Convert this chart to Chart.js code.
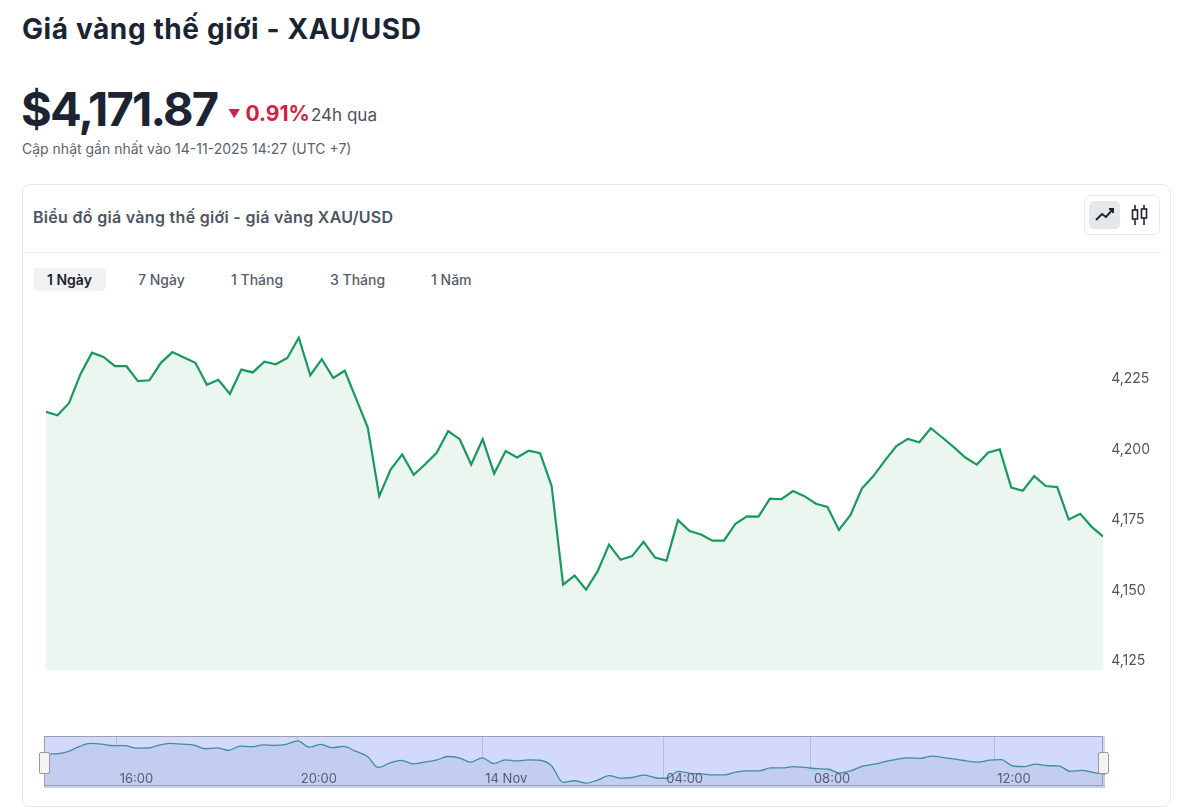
<!DOCTYPE html>
<html><head><meta charset="utf-8">
<script src="https://cdn.jsdelivr.net/npm/chart.js@4/dist/chart.umd.min.js"></script>
<style>
body{margin:0;background:#fff;font-family:Inter,"Noto Sans",sans-serif;color:#1c2433;width:1184px;height:812px;position:relative;overflow:hidden}
.abs{position:absolute;white-space:nowrap}
#card{position:absolute;left:22px;top:184px;width:1149px;height:623px;border:1px solid #e6e8ec;border-radius:8px;box-sizing:border-box}
.tab{position:absolute;top:268px;height:23px;line-height:23px;font-size:14px;color:#555d6b;font-weight:500;padding:0 14px}
</style></head><body>
<div class="abs" style="left:22px;top:12px;font-size:28px;font-weight:700;letter-spacing:0.6px">Giá vàng thế giới - XAU/USD</div>
<div class="abs" style="left:21px;top:80px;font-size:47px;font-weight:700;letter-spacing:-1.8px">$4,171.87</div>
<div class="abs" style="left:228px;top:101px;font-size:21px;font-weight:700;color:#d21f46"><span style="font-size:12px;vertical-align:3px">▼</span> 0.91%</div>
<div class="abs" style="left:311px;top:105px;font-size:17px;color:#4b5260">24h qua</div>
<div class="abs" style="left:22px;top:140px;font-size:14px;color:#5b6270">Cập nhật gần nhất vào 14-11-2025 14:27 (UTC +7)</div>
<div id="card"></div>
<div class="abs" style="left:33px;top:207px;font-size:16px;font-weight:600;color:#4b5563;letter-spacing:0.3px">Biểu đồ giá vàng thế giới - giá vàng XAU/USD</div>
<div class="abs" style="left:1084px;top:195px;width:76px;height:40px;border:1px solid #e6e8ec;border-radius:6px;box-sizing:border-box"></div>
<div class="abs" style="left:1089px;top:201px;width:31px;height:28px;background:#e5e7eb;border-radius:5px"></div>
<svg class="abs" style="left:1094px;top:205px" width="22" height="20"><polyline points="2,15 8,9 12,12 19,4" fill="none" stroke="#1c2433" stroke-width="2"/><polyline points="15,4 19,4 19,8" fill="none" stroke="#1c2433" stroke-width="2"/></svg>
<svg class="abs" style="left:1130px;top:204px" width="20" height="22"><line x1="5" y1="1" x2="5" y2="21" stroke="#1c2433" stroke-width="1.6"/><rect x="2.5" y="6" width="5" height="9" fill="#fff" stroke="#1c2433" stroke-width="1.6"/><line x1="14" y1="1" x2="14" y2="21" stroke="#1c2433" stroke-width="1.6"/><rect x="11.5" y="5" width="5" height="9" fill="#fff" stroke="#1c2433" stroke-width="1.6"/></svg>
<div class="abs" style="left:23px;top:252px;width:1138px;height:1px;background:#eceef1"></div>
<div class="tab" style="left:33px;background:#f1f2f4;border-radius:5px;color:#1c2433;font-weight:600">1 Ngày</div>
<div class="tab" style="left:124px">7 Ngày</div>
<div class="tab" style="left:217px">1 Tháng</div>
<div class="tab" style="left:316px">3 Tháng</div>
<div class="tab" style="left:417px">1 Năm</div>
<div class="abs" style="left:40px;top:300px;width:1123px;height:385px"><canvas id="main"></canvas></div>
<div class="abs" style="left:44px;top:736px;width:1061px;height:52px"><canvas id="nav"></canvas></div>
<div class="abs" style="left:44px;top:736px;width:1059px;height:50px;border:1px solid #9aa0b0;box-sizing:border-box;pointer-events:none"></div>
<div class="abs" style="left:39px;top:752px;width:9px;height:20px;background:#f3f3f3;border:1px solid #999;border-radius:2px"></div>
<div class="abs" style="left:1098px;top:752px;width:9px;height:20px;background:#f3f3f3;border:1px solid #999;border-radius:2px"></div>
<script>
const prices=[4213.4,4212.2,4216.5,4226.8,4234.4,4232.9,4229.6,4229.6,4224.3,4224.6,4230.8,4234.6,4232.7,4230.8,4223.0,4224.8,4219.8,4228.4,4227.4,4231.2,4230.3,4232.5,4239.7,4226.4,4232.1,4225.4,4228.0,4217.9,4207.8,4183.5,4193.0,4198.3,4191.1,4194.8,4198.9,4206.6,4203.7,4194.7,4203.7,4191.5,4199.5,4197.2,4199.6,4198.7,4187.1,4152.1,4155.3,4150.3,4156.8,4166.3,4160.9,4162.2,4167.3,4161.7,4160.6,4175.0,4171.1,4169.9,4167.7,4167.7,4173.7,4176.3,4176.2,4182.6,4182.4,4185.3,4183.5,4180.8,4179.7,4171.5,4176.7,4186.2,4190.6,4196.1,4201.3,4203.8,4202.6,4207.6,4204.3,4200.9,4197.2,4194.7,4199.0,4200.1,4186.5,4185.4,4190.6,4187.1,4186.7,4175.2,4177.2,4172.6,4169.1];
const yTicks=[4125,4150,4175,4200,4225];
const navLabels=["16:00","20:00","14 Nov","04:00","08:00","12:00"];
const navLabelIdx=[6.3,22,38,53.7,66.5,82.4];
const pts=prices.map((v,i)=>({x:i,y:v}));
new Chart(document.getElementById('main'),{type:'line',
data:{datasets:[{data:pts,borderColor:'#179a5c',borderWidth:2.2,backgroundColor:'#ebf6f0',fill:'start',pointRadius:0,tension:0}]},
options:{animation:false,responsive:true,maintainAspectRatio:false,plugins:{legend:{display:false},tooltip:{enabled:false}},
layout:{padding:{left:6,top:20,bottom:15,right:13}},
scales:{x:{type:'linear',min:0,max:prices.length-1,display:false},
y:{position:'right',min:4121.8,max:4246,afterBuildTicks:a=>{a.ticks=yTicks.map(v=>({value:v}))},grid:{display:false},border:{display:false},
ticks:{padding:0,color:'#555',font:{family:'Inter',size:14},callback:v=>v.toLocaleString('en-US')}}}}});
new Chart(document.getElementById('nav'),{type:'line',
plugins:[{id:'bg',beforeDraw(c){const a=c.chartArea;c.ctx.save();c.ctx.fillStyle='#d3d9fb';c.ctx.fillRect(a.left,a.top,a.width,a.height);c.ctx.restore();},
afterDraw(c){const x=c.scales.x,ctx=c.ctx;ctx.save();ctx.fillStyle='#555b70';ctx.font='13px Inter';ctx.textBaseline='bottom';
navLabelIdx.forEach((v,i)=>ctx.fillText(navLabels[i],x.getPixelForValue(v)+3,c.chartArea.bottom-2));ctx.restore();}}],
data:{datasets:[{data:pts,borderColor:'#3e8ea0',borderWidth:1.3,backgroundColor:'#c3cdf0',fill:'start',pointRadius:0,cubicInterpolationMode:'monotone'}]},
options:{animation:false,responsive:true,maintainAspectRatio:false,plugins:{legend:{display:false},tooltip:{enabled:false}},
layout:{padding:0},
scales:{x:{type:'linear',min:0,max:prices.length-1,afterBuildTicks:a=>{a.ticks=navLabelIdx.map(v=>({value:v}))},
grid:{color:'#b5bde0',drawTicks:false},border:{display:false},ticks:{display:false}},
y:{display:false,min:4140,max:4250}}}});
</script>
</body></html>
